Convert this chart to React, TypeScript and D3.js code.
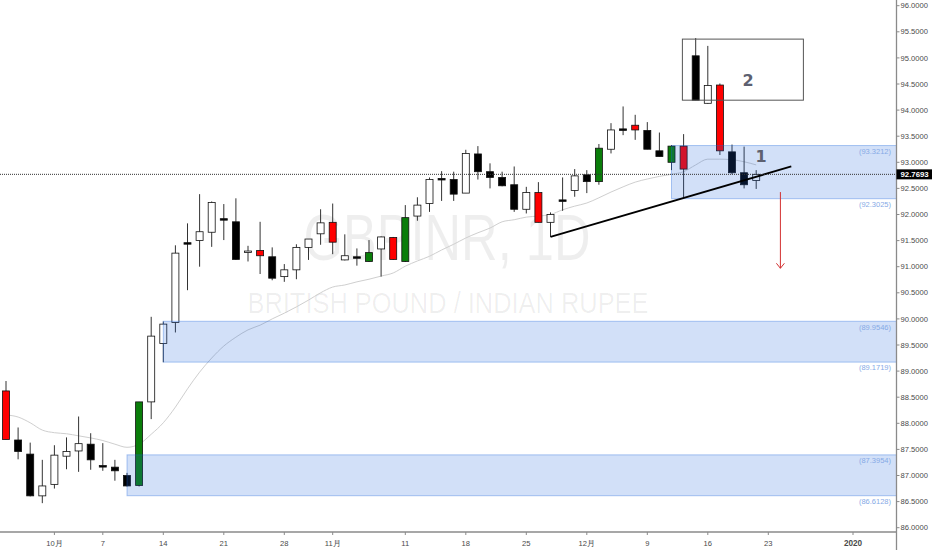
import React from 'react'
import * as d3 from 'd3'

// trading days, Sep 25 2019 -> Dec 20 2019
const dates = [
  '09-25', '09-26', '09-27', '09-30',
  '10-01', '10-02', '10-03', '10-04', '10-07', '10-08', '10-09', '10-10', '10-11',
  '10-14', '10-15', '10-16', '10-17', '10-18', '10-21', '10-22', '10-23', '10-24', '10-25',
  '10-28', '10-29', '10-30', '10-31',
  '11-01', '11-04', '11-05', '11-06', '11-07', '11-08', '11-11', '11-12', '11-13', '11-14', '11-15',
  '11-18', '11-19', '11-20', '11-21', '11-22', '11-25', '11-26', '11-27', '11-28', '11-29',
  '12-02', '12-03', '12-04', '12-05', '12-06', '12-09', '12-10', '12-11', '12-12', '12-13',
  '12-16', '12-17', '12-18', '12-19', '12-20',
]
const opens = [
  88.62, 87.68, 87.41, 86.61,
  86.83, 87.37, 87.47, 87.6, 87.19, 87.16, 87.0, 86.81, 88.41,
  89.53, 89.93, 91.46, 91.5, 91.66, 91.92, 91.86, 91.28, 91.31, 91.19,
  90.81, 90.94, 91.37, 91.63,
  91.85, 91.13, 91.19, 91.1, 91.34, 91.56, 91.1, 91.97, 92.21, 92.69, 92.67,
  92.41, 93.16, 92.82, 92.71, 92.57, 92.1, 92.42, 91.85, 92.28, 92.46,
  92.76, 92.63, 93.25, 93.64, 93.71, 93.61, 93.22, 93.0, 93.31, 95.04,
  94.13, 94.48, 93.2, 92.8, 92.65,
]
const highs = [
  88.81, 87.92, 87.63, 87.3,
  87.58, 87.73, 88.13, 87.81, 87.62, 87.3, 87.05, 88.41, 90.04,
  89.95, 91.41, 91.83, 92.39, 92.25, 92.2, 92.31, 91.4, 91.86, 91.37,
  91.05, 91.43, 91.53, 92.1,
  92.21, 91.62, 91.35, 91.51, 91.58, 91.57, 92.18, 92.33, 92.71, 92.83, 92.82,
  93.24, 93.31, 92.98, 92.82, 92.92, 92.53, 92.62, 92.04, 92.71, 92.87,
  92.85, 93.35, 93.75, 94.07, 93.91, 93.77, 93.57, 93.33, 93.54, 95.38,
  95.23, 94.51, 93.34, 93.3, 92.85,
]
const lows = [
  87.69, 87.31, 86.6, 86.47,
  86.75, 87.12, 87.07, 87.11, 87.09, 86.9, 86.79, 86.79, 88.08,
  89.17, 89.74, 90.55, 91.0, 91.38, 91.51, 91.13, 91.1, 90.86, 90.74,
  90.71, 90.76, 91.13, 91.42,
  91.24, 91.12, 91.02, 91.09, 90.81, 91.13, 91.09, 91.88, 92.05, 92.26, 92.26,
  92.41, 92.67, 92.5, 92.54, 92.05, 92.02, 91.85, 91.57, 92.07, 92.34,
  92.41, 92.57, 93.17, 93.52, 93.43, 93.25, 93.11, 92.85, 92.32, 94.19,
  94.12, 93.14, 92.77, 92.5, 92.49,
]
const closes = [
  87.69, 87.46, 86.61, 86.8,
  87.39, 87.46, 87.61, 87.3, 87.18, 87.09, 86.8, 88.41, 89.67,
  89.9, 91.26, 91.45, 91.67, 92.23, 91.9, 91.14, 91.3, 91.21, 90.78,
  90.94, 91.37, 91.53, 91.84,
  91.47, 91.21, 91.17, 91.27, 91.57, 91.14, 91.94, 92.18, 92.67, 92.68, 92.39,
  93.17, 92.82, 92.71, 92.55, 92.1, 92.42, 91.85, 92.0, 92.27, 92.74,
  92.63, 93.27, 93.62, 93.63, 93.62, 93.25, 93.11, 93.31, 92.87, 94.19,
  94.47, 93.22, 92.8, 92.57, 92.7693,
]
// w = hollow, b = black, r = red, g = green
const candleKinds = [
  'r', 'b', 'b', 'w',
  'w', 'w', 'w', 'b', 'b', 'b', 'b', 'g', 'w',
  'w', 'w', 'b', 'w', 'w', 'b', 'b', 'w', 'r', 'b',
  'w', 'w', 'w', 'w',
  'r', 'w', 'b', 'g', 'w', 'r', 'g', 'w', 'w', 'b', 'b',
  'w', 'b', 'b', 'b', 'b', 'w', 'r', 'w', 'b', 'w',
  'b', 'g', 'w', 'b', 'r', 'b', 'b', 'g', 'r', 'b',
  'w', 'r', 'b', 'b', 'w',
]
const maValues = [
  88.16, 88.12, 88.01, 87.87, 87.82, 87.8, 87.76, 87.72, 87.67, 87.6,
  87.54, 87.6, 87.79, 88.01, 88.31, 88.66, 88.98, 89.25, 89.48, 89.65,
  89.79, 89.88, 90.0, 90.11, 90.23, 90.36, 90.5, 90.61, 90.65, 90.71,
  90.76, 90.82, 90.88, 91.01, 91.11, 91.2, 91.32, 91.43, 91.55, 91.65,
  91.74, 91.86, 91.9, 91.95, 91.97, 92.0, 92.09, 92.16, 92.22, 92.32,
  92.43, 92.53, 92.62, 92.68, 92.73, 92.77, 92.82, 92.95, 93.06, 93.06,
  93.05, 93.01, 92.95,
]

const priceTicks = d3.range(86, 96.001, 0.5)
const dateTickIdx = [4, 8, 13, 18, 23, 27, 33, 38, 43, 48, 53, 58, 63, 70]
const dateTickLabels = ['10月', '7', '14', '21', '28', '11月', '11', '18', '25', '12月', '9', '16', '23', '2020']

// supply / demand zones: start index, top, bottom
const zoneStarts = [13, 10, 55]
const zoneTops = [89.9546, 87.3954, 93.3212]
const zoneBottoms = [89.1719, 86.6128, 92.3025]

const lastPrice = 92.7693
const trendIdx = [45, 64.9]
const trendPrices = [91.57, 92.92]
const boxIdx = [55.9, 65.9]
const boxPrices = [95.36, 94.19]
const arrowIdx = 64
const arrowPrices = [92.43, 90.97]

const W = 932
const H = 550
const axisX = 896.5
const axisY = 532

const candleFill: Record<string, string> = { w: '#ffffff', b: '#000000', r: '#ff0000', g: '#0a7d0a' }

export default function App() {
  const x = d3.scaleLinear().domain([0, 70]).range([6, 853])
  const y = d3.scaleLinear().domain([86, 96]).range([527.7, 5.7])
  const fmt = d3.format('.4f')

  const maLine = d3.line<number>()
    .x((_, i) => x(i))
    .y(d => y(d))
    .curve(d3.curveMonotoneX)

  const bw = 7
  const axisFont = '"Liberation Sans", Arial, sans-serif'

  return (
    <svg width={W} height={H} style={{ position: 'absolute', left: 0, top: 0, background: '#fff' }}>
      <rect width={W} height={H} fill="#fff" />

      {/* watermark */}
      <text x={447} y={260} fontFamily={axisFont} fontSize={65} fill="#000" fillOpacity={0.065}
        textAnchor="middle" textLength={287} lengthAdjust="spacingAndGlyphs">GBPINR, 1D</text>
      <text x={448} y={313} fontFamily={axisFont} fontSize={30} fill="#000" fillOpacity={0.065}
        textAnchor="middle" textLength={401} lengthAdjust="spacingAndGlyphs">BRITISH POUND / INDIAN RUPEE</text>

      {/* moving average */}
      <path d={maLine(maValues) ?? ''} fill="none" stroke="#cfcfcf" strokeWidth={1} />

      {/* candles */}
      {dates.map((d, i) => {
        const cx = x(i)
        const top = y(Math.max(opens[i], closes[i]))
        const bot = y(Math.min(opens[i], closes[i]))
        const h = Math.max(bot - top, 1.5)
        return (
          <g key={d}>
            <line x1={cx} x2={cx} y1={y(highs[i])} y2={y(lows[i])} stroke="#333" strokeWidth={1} />
            <rect x={cx - bw / 2} y={top} width={bw} height={h}
              fill={candleFill[candleKinds[i]]} stroke="#111" strokeWidth={0.8} />
          </g>
        )
      })}

      {/* zones */}
      {zoneStarts.map((s, i) => (
        <g key={'z' + i}>
          <rect x={x(s)} y={y(zoneTops[i])} width={axisX - x(s)} height={y(zoneBottoms[i]) - y(zoneTops[i])}
            fill="rgb(30,100,220)" fillOpacity={0.2} stroke="rgb(30,100,220)" strokeOpacity={0.35} strokeWidth={1} />
          <text x={891} y={y(zoneTops[i]) + 8.5} textAnchor="end" fontFamily={axisFont} fontSize={7.5} fill="#86aae6">
            ({fmt(zoneTops[i])})
          </text>
          <text x={891} y={y(zoneBottoms[i]) + 8} textAnchor="end" fontFamily={axisFont} fontSize={7.5} fill="#86aae6">
            ({fmt(zoneBottoms[i])})
          </text>
        </g>
      ))}

      {/* trend line */}
      <line x1={x(trendIdx[0])} y1={y(trendPrices[0])} x2={x(trendIdx[1])} y2={y(trendPrices[1])}
        stroke="#000" strokeWidth={1.8} />

      {/* box 2 */}
      <rect x={x(boxIdx[0])} y={y(boxPrices[0])} width={x(boxIdx[1]) - x(boxIdx[0])}
        height={y(boxPrices[1]) - y(boxPrices[0])} fill="none" stroke="#555" strokeWidth={1} />
      <text x={748} y={86} textAnchor="middle" fontFamily='"DejaVu Sans", sans-serif' fontWeight="bold"
        fontSize={16} fill="#5d6070">2</text>
      <text x={761} y={162} textAnchor="middle" fontFamily='"DejaVu Sans", sans-serif' fontWeight="bold"
        fontSize={16} fill="#5d6070">1</text>

      {/* arrow */}
      <line x1={x(arrowIdx)} x2={x(arrowIdx)} y1={y(arrowPrices[0])} y2={y(arrowPrices[1])} stroke="#d32f2f" strokeWidth={1} />
      <polyline points={`${x(arrowIdx) - 4},${y(arrowPrices[1]) - 5} ${x(arrowIdx)},${y(arrowPrices[1])} ${x(arrowIdx) + 4},${y(arrowPrices[1]) - 5}`}
        fill="none" stroke="#d32f2f" strokeWidth={1} />

      {/* last price dotted line */}
      <line x1={0} x2={axisX} y1={y(lastPrice)} y2={y(lastPrice)} stroke="#333" strokeWidth={1} strokeDasharray="1,1" />

      {/* axes */}
      <line x1={0} x2={axisX} y1={axisY} y2={axisY} stroke="#8a8a8a" strokeWidth={1.3} />
      <line x1={axisX} x2={axisX} y1={0} y2={H} stroke="#8a8a8a" strokeWidth={1.3} />
      {priceTicks.map(p => (
        <g key={p}>
          <line x1={axisX} x2={axisX + 3} y1={y(p)} y2={y(p)} stroke="#8a8a8a" />
          <text x={900.5} y={y(p) + 2.6} fontFamily={axisFont} fontSize={7.6} fill="#4a4a4a">{fmt(p)}</text>
        </g>
      ))}
      {dateTickIdx.map((t, i) => (
        <g key={t}>
          <line x1={x(t)} x2={x(t)} y1={axisY} y2={axisY + 3} stroke="#8a8a8a" />
          <text x={x(t)} y={546} textAnchor="middle" fontFamily={axisFont}
            fontSize={dateTickLabels[i] === '2020' ? 8.2 : 7.6}
            fontWeight={dateTickLabels[i] === '2020' ? 'bold' : 'normal'} fill="#4a4a4a">{dateTickLabels[i]}</text>
        </g>
      ))}

      {/* last price label */}
      <rect x={axisX} y={y(lastPrice) - 5} width={W - axisX} height={10} fill="#000" />
      <text x={900.5} y={y(lastPrice) + 2.8} fontFamily={axisFont} fontSize={7.8} fontWeight="bold" fill="#fff">
        {fmt(lastPrice)}
      </text>
    </svg>
  )
}
